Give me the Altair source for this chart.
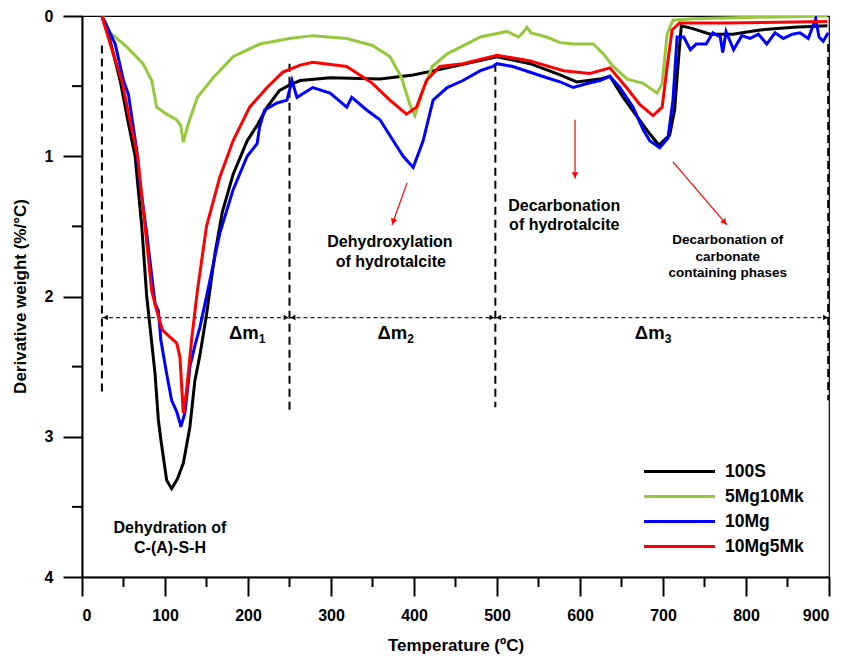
import math
import altair as alt
import pandas as pd

# ---------------- data ----------------
SERIES = ["100S", "5Mg10Mk", "10Mg", "10Mg5Mk"]
COLORS = ["#000000", "#96c83c", "#0000ff", "#ff0000"]

T_100S = [24, 34, 46, 55, 64, 72, 78, 88, 92, 95, 102, 108, 115, 122, 130, 136, 142, 150, 160, 169,
          182, 199, 211, 223, 238, 251, 263, 299, 359, 399, 440, 500, 540, 576, 596, 624, 636, 652,
          669, 684, 695, 708, 714, 718, 722, 736, 757, 784, 817, 857, 898]
V_100S = [0, 0.18, 0.46, 0.74, 1.0, 1.5, 2.0, 2.55, 2.88, 3.02, 3.31, 3.37, 3.3, 3.19, 2.93, 2.6, 2.42,
          2.13, 1.7, 1.4, 1.13, 0.89, 0.78, 0.65, 0.53, 0.49, 0.46, 0.44, 0.45, 0.42, 0.37, 0.29, 0.34,
          0.42, 0.47, 0.45, 0.43, 0.58, 0.72, 0.84, 0.92, 0.85, 0.67, 0.36, 0.07, 0.09, 0.13, 0.13,
          0.1, 0.08, 0.07]

T_5MG10MK = [25, 34, 54, 73.5, 84, 90, 102, 114, 119, 122, 128, 139, 158, 182, 214, 250, 278, 319, 350,
             371, 385, 395, 401, 411, 422, 440, 480, 512, 526, 531, 536, 541, 560, 576, 592, 616, 628,
             640, 657, 676, 693, 699, 705, 712, 736, 800, 898]
V_5MG10MK = [0, 0.12, 0.22, 0.34, 0.46, 0.65, 0.7, 0.74, 0.78, 0.9, 0.77, 0.58, 0.44, 0.29, 0.2, 0.16,
             0.14, 0.16, 0.21, 0.29, 0.44, 0.63, 0.71, 0.53, 0.36, 0.27, 0.15, 0.11, 0.15, 0.12, 0.08,
             0.12, 0.15, 0.19, 0.2, 0.2, 0.27, 0.36, 0.45, 0.48, 0.55, 0.48, 0.13, 0.03, 0.02, 0.01, 0.0]

T_10MG = [24, 40, 50, 56, 66, 70, 78, 88, 92, 95, 102, 108, 114, 118, 119, 124, 128, 130, 136, 142, 150,
          166, 182, 199, 211, 214, 220, 235, 247, 253, 259, 278, 299, 319, 325, 343, 359, 375, 387, 399,
          411, 423, 440, 459, 480, 495, 500, 519, 560, 576, 592, 610, 624, 636, 648, 664, 676, 684, 696,
          706, 712, 717, 725, 733, 740, 752, 760, 769, 772, 776, 785, 795, 805, 815, 825, 835, 845,
          856, 865, 875, 884, 888, 893, 899]
V_10MG = [0, 0.2, 0.46, 0.56, 0.96, 1.2, 1.55, 2.05, 2.1, 2.31, 2.55, 2.74, 2.82, 2.9, 2.93, 2.83, 2.62,
          2.5, 2.35, 2.22, 2.0, 1.55, 1.24, 1.0, 0.91, 0.79, 0.67, 0.62, 0.6, 0.46, 0.58, 0.51, 0.55,
          0.65, 0.58, 0.67, 0.74, 0.89, 1.0, 1.08, 0.89, 0.6, 0.51, 0.46, 0.39, 0.36, 0.34, 0.36, 0.44,
          0.47, 0.51, 0.48, 0.46, 0.43, 0.51, 0.65, 0.81, 0.89, 0.94, 0.87, 0.6, 0.15, 0.15, 0.24, 0.2,
          0.2, 0.12, 0.15, 0.26, 0.11, 0.24, 0.14, 0.16, 0.13, 0.2, 0.12, 0.16, 0.13, 0.12, 0.16, 0.02,
          0.15, 0.18, 0.12]

T_10MG5MK = [24, 34, 48, 58, 67, 76, 84, 90, 97, 106, 114, 118, 122, 126, 132, 139, 150, 166, 182, 202,
             223, 242, 263, 278, 319, 350, 371, 391, 403, 415, 431, 459, 500, 540, 580, 612, 636, 656,
             672, 688, 699, 705, 711, 720, 777, 898]
V_10MG5MK = [0, 0.2, 0.46, 0.75, 1.0, 1.5, 1.96, 2.1, 2.24, 2.29, 2.33, 2.43, 2.83, 2.67, 2.31, 1.96,
             1.5, 1.15, 0.89, 0.65, 0.51, 0.4, 0.35, 0.33, 0.36, 0.48, 0.6, 0.7, 0.65, 0.46, 0.36, 0.34,
             0.28, 0.32, 0.39, 0.41, 0.37, 0.51, 0.63, 0.71, 0.65, 0.36, 0.1, 0.05, 0.05, 0.04]

# vertical dashed separators
SEP_T = [24, 250, 498, 899]
SEP_TOP = [0.21, 0.34, 0.34, 0.2]
SEP_BOTTOM = [2.68, 2.82, 2.79, 2.74]

# delta-m double arrows
DM_T1 = [24, 250, 498]
DM_T2 = [250, 498, 900]
DM_V = 2.15
DM_LABEL_T = [195, 374, 684]
DM_SUB_T = [217, 396, 706]
DM_SUB = ["1", "2", "3"]

# red arrows
ARR_T1 = [391.6, 594, 712]
ARR_V1 = [1.19, 0.74, 1.04]
ARR_T2 = [373.5, 594, 777]
ARR_V2 = [1.49, 1.16, 1.49]

# annotation texts
ANN_BIG = ["Dehydration of", "C-(A)-S-H", "Dehydroxylation", "of hydrotalcite",
           "Decarbonation", "of hydrotalcite"]
ANN_BIG_T = [106, 106, 371, 372, 581, 581]
ANN_BIG_V = [3.65, 3.79, 1.61, 1.755, 1.355, 1.49]
ANN_SMALL = ["Decarbonation of", "carbonate", "containing phases"]
ANN_SMALL_T = [778, 778, 778]
ANN_SMALL_V = [1.6, 1.72, 1.835]

X_MINOR = [50, 150, 250, 350, 450, 550, 650, 750, 850]
Y_MINOR = [0.5, 1.5, 2.5, 3.5]

# ---------------- layout ----------------
W, H = 747, 561
PX_T = W / 900.0
PX_V = H / 4.0
FONT = "Liberation Sans"

rows = []
for name, ts, vs in [("100S", T_100S, V_100S), ("5Mg10Mk", T_5MG10MK, V_5MG10MK),
                     ("10Mg", T_10MG, V_10MG), ("10Mg5Mk", T_10MG5MK, V_10MG5MK)]:
    for t, v in zip(ts, vs):
        rows.append({"series": name, "T": t, "v": v})
df = pd.DataFrame(rows)

xaxis = alt.Axis(values=list(range(0, 901, 100)), title="Temperature (ºC)", grid=False,
                 tickSize=19, tickWidth=2, tickColor="black", domainColor="black", domainWidth=2,
                 labelFont=FONT, labelFontSize=16, labelFontWeight="bold", labelColor="black",
                 labelPadding=11, titleFont=FONT, titleFontSize=17, titleFontWeight="bold",
                 titleColor="black", titleX=373.5, titleY=68, titleBaseline="middle",
                 titleAnchor="middle", titleAlign="center")
yaxis = alt.Axis(values=[0, 1, 2, 3, 4], title="Derivative weight (%/°C)", grid=False,
                 tickSize=19, tickWidth=2, tickColor="black", domainColor="black", domainWidth=2,
                 labelFont=FONT, labelFontSize=16, labelFontWeight="bold", labelColor="black",
                 labelPadding=10, titleFont=FONT, titleFontSize=17, titleFontWeight="bold",
                 titleColor="black", titleX=-62, titleY=280, titleAngle=270, titleAlign="center",
                 titleBaseline="middle")
xscale = alt.Scale(domain=[0, 900], nice=False, zero=False)
yscale = alt.Scale(domain=[0, 4], reverse=True, nice=False, zero=False)


def X(field="T"):
    return alt.X(f"{field}:Q", scale=xscale, axis=xaxis)


def Y(field="v"):
    return alt.Y(f"{field}:Q", scale=yscale, axis=yaxis)


lines = alt.Chart(df).mark_line(strokeWidth=3, clip=True).encode(
    x=X(), y=Y(),
    color=alt.Color("series:N", scale=alt.Scale(domain=SERIES, range=COLORS),
                    legend=alt.Legend(orient="none", legendX=586, legendY=444, title=None,
                                      symbolType="M-3.55,0H3.55", symbolSize=400,
                                      symbolStrokeWidth=3, labelFont=FONT, labelFontSize=17.5,
                                      labelFontWeight="bold", labelColor="black", labelOffset=34,
                                      rowPadding=5, padding=0)),
    order=alt.Order("T:Q"),
)

sep_df = pd.DataFrame({"T": SEP_T, "v": SEP_TOP, "v2": SEP_BOTTOM})
seps = alt.Chart(sep_df).mark_rule(color="black", strokeWidth=2, strokeDash=[8, 5]).encode(
    x=X(), y=Y(), y2="v2:Q")

dm_df = pd.DataFrame({"T": DM_T1, "T2": DM_T2, "v": [DM_V] * len(DM_T1)})
dm_line = alt.Chart(dm_df).mark_rule(color="#222222", strokeWidth=1.3, strokeDash=[4, 3]).encode(
    x=X(), x2="T2:Q", y=Y())

head_rows = []
for a, b in zip(DM_T1, DM_T2):
    head_rows.append({"T": a + 3.5 / PX_T, "v": DM_V, "shape": "triangle-left"})
    head_rows.append({"T": b - 3.5 / PX_T, "v": DM_V, "shape": "triangle-right"})
dm_heads = alt.Chart(pd.DataFrame(head_rows)).mark_point(filled=True, color="black", size=30,
                                                          opacity=1).encode(
    x=X(), y=Y(), shape=alt.Shape("shape:N", scale=None))

dm_text = alt.Chart(pd.DataFrame({"T": DM_LABEL_T, "v": [2.262] * 3, "t": ["Δm"] * 3})).mark_text(
    font=FONT, fontSize=18.5, fontWeight="bold", color="black", align="center", baseline="middle"
).encode(x=X(), y=Y(), text="t:N")
dm_sub = alt.Chart(pd.DataFrame({"T": DM_SUB_T, "v": [2.30] * 3, "t": DM_SUB})).mark_text(
    font=FONT, fontSize=12, fontWeight="bold", color="black", align="center", baseline="middle"
).encode(x=X(), y=Y(), text="t:N")

# red arrows
arr_df = pd.DataFrame({"T": ARR_T1, "v": ARR_V1, "T2": ARR_T2, "v2": ARR_V2})
arr_lines = alt.Chart(arr_df).mark_rule(color="#ff0000", strokeWidth=1.2).encode(
    x=X(), y=Y(), x2="T2:Q", y2="v2:Q")
ah = []
for t1, v1, t2, v2 in zip(ARR_T1, ARR_V1, ARR_T2, ARR_V2):
    dx = (t2 - t1) * PX_T
    dy = (v2 - v1) * PX_V
    ln = math.hypot(dx, dy)
    ux, uy = dx / ln, dy / ln
    ang = math.degrees(math.atan2(ux, -uy)) % 360
    ah.append({"T": t2 - 3.5 * ux / PX_T, "v": v2 - 3.5 * uy / PX_V, "ang": ang})
arr_heads = alt.Chart(pd.DataFrame(ah)).mark_point(filled=True, color="#ff0000", size=45,
                                                   shape="triangle-up", opacity=1).encode(
    x=X(), y=Y(), angle=alt.Angle("ang:Q", scale=None))

big = alt.Chart(pd.DataFrame({"T": ANN_BIG_T, "v": ANN_BIG_V, "t": ANN_BIG})).mark_text(
    font=FONT, fontSize=16, fontWeight="bold", color="black", align="center", baseline="middle"
).encode(x=X(), y=Y(), text="t:N")
small = alt.Chart(pd.DataFrame({"T": ANN_SMALL_T, "v": ANN_SMALL_V, "t": ANN_SMALL})).mark_text(
    font=FONT, fontSize=13.5, fontWeight="bold", color="black", align="center", baseline="middle"
).encode(x=X(), y=Y(), text="t:N")

xminor = alt.Chart(pd.DataFrame({"T": X_MINOR})).mark_rule(color="black", strokeWidth=2).encode(
    x=X(), y=alt.value(H), y2=alt.value(H + 10))
yminor = alt.Chart(pd.DataFrame({"v": Y_MINOR})).mark_rule(color="black", strokeWidth=2).encode(
    y=Y(), x=alt.value(-10), x2=alt.value(0))

chart = alt.layer(
    seps, dm_line, dm_heads, dm_text, dm_sub, arr_lines, arr_heads, big, small,
    lines, xminor, yminor
).properties(
    width=W, height=H,
    autosize=alt.AutoSizeParams(type="none"),
    padding={"left": 82, "top": 16, "right": 16, "bottom": 83},
    background="white",
).configure_view(stroke="black", strokeWidth=1.2)

chart.save("out.html", embed_options={"renderer": "svg", "actions": False})
